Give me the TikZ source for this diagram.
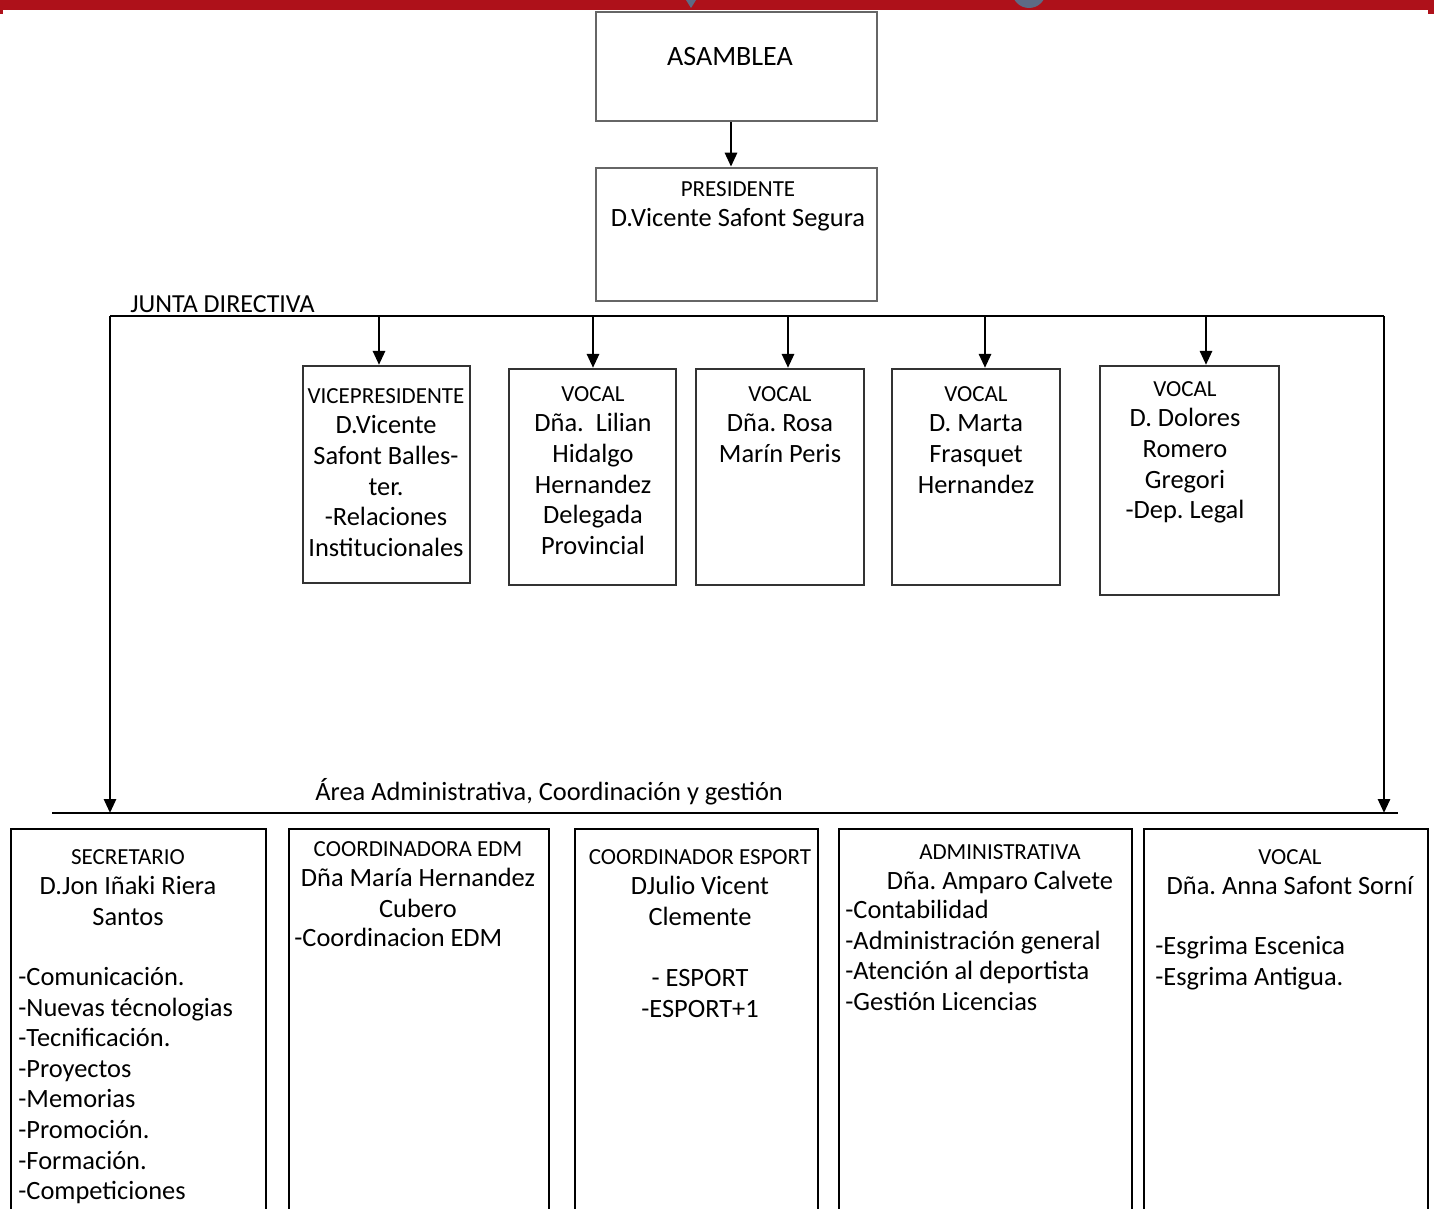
\documentclass[tikz,border=0pt]{standalone}
\usepackage{fontspec}
\setmainfont{Carlito}
\usepackage{tikz}
\usetikzlibrary{arrows.meta,positioning,calc}

\definecolor{barred}{HTML}{AE111A}
\definecolor{slate}{HTML}{5D6B85}
\newcommand\hdr{\fontsize{11.5}{14}\selectfont}
\frenchspacing

\begin{document}
\begin{tikzpicture}[x=0.5pt, y=-0.5pt,
    topbox/.style={draw=black!60, line width=1.3pt, minimum width=140.5pt},
    midbox/.style={draw=black!80, line width=1.1pt},
    botbox/.style={draw=black, line width=1pt, anchor=north west, minimum height=212pt},
    txt/.style={inner sep=0pt, font=\fontsize{13.2}{15.3}\selectfont, align=center},
    lst/.style={txt, align=left, anchor=north west},
    line/.style={line width=1.4pt},
    arrow/.style={line, -{Triangle[length=7pt,width=6pt]}}]

    \useasboundingbox (0,0) rectangle (1434,1209);
    \clip (0,0) rectangle (1434,1209);

    % page header bar
    \fill[barred] (0,0) rectangle (1434,10);
    \fill[barred] (0,0) rectangle (3,14);
    \fill[barred] (1428,0) rectangle (1434,14);
    \fill[slate] (1029,-9) circle (8.5pt);
    \fill[slate] (686,0) -- (696,0) -- (691,8) -- cycle;

    % top
    \node[topbox, minimum height=54.5pt] (asam) at (736.5,66.5) {};
    \node[txt, font=\fontsize{14}{17}\selectfont] (asamt) at (730,57) {ASAMBLEA};
    \node[topbox, minimum height=66.5pt] (pres) at (736.5,234.5) {};
    \node[txt, anchor=north] (prest) at (738,181) {{\hdr PRESIDENTE}\\D.Vicente Safont Segura};
    \draw[arrow] ([xshift=-2.75pt]asam.south) -- ([xshift=-2.75pt]pres.north);

    % junta directiva
    \coordinate (jdL) at (110,316);
    \coordinate (jdR) at (1384,316);
    \node[txt, anchor=base west, font=\fontsize{13}{15}\selectfont] (jdt) at (130,313) {JUNTA DIRECTIVA};
    \draw[line] (jdL) -- (jdR);

    \node[midbox, minimum width=83.5pt, minimum height=108.5pt] (vice) at (386.5,474.5) {};
    \node[midbox, minimum width=83.5pt, minimum height=108pt] (voc1) at (592.5,477) {};
    \node[midbox, minimum width=84pt, minimum height=108pt] (voc2) at (780,477) {};
    \node[midbox, minimum width=84pt, minimum height=108pt] (voc3) at (976,477) {};
    \node[midbox, minimum width=89.5pt, minimum height=114.5pt] (voc4) at (1189.5,480.5) {};

    \node[txt, anchor=north] (vicet) at (386,388) {{\hdr VICEPRESIDENTE}\\D.Vicente\\Safont Balles-\\ter.\\-Relaciones\\Institucionales};
    \node[txt, anchor=north] (voc1t) at (593,386) {{\hdr VOCAL}\\Dña.~ Lilian\\Hidalgo\\Hernandez\\Delegada\\Provincial};
    \node[txt, anchor=north] (voc2t) at (780,386) {{\hdr VOCAL}\\Dña. Rosa\\Marín Peris};
    \node[txt, anchor=north] (voc3t) at (976,386) {{\hdr VOCAL}\\D. Marta\\Frasquet\\Hernandez};
    \node[txt, anchor=north] (voc4t) at (1185,381) {{\hdr VOCAL}\\D. Dolores\\Romero\\Gregori\\-Dep. Legal};

    \foreach \b/\dx in {vice/-3.75, voc1/0.25, voc2/4, voc3/4.5, voc4/8.25}
        \draw[arrow] ([xshift=\dx pt]\b.north |- jdL) -- ([xshift=\dx pt]\b.north);

    % area administrativa
    \coordinate (arL) at (52,813);
    \coordinate (arR) at (1398,813);
    \node[txt, anchor=base west] (areat) at (315,800) {Área Administrativa, Coordinación y gestión};
    \draw[line, line width=1.1pt] (arL) -- (arR);
    \draw[arrow] (jdL) -- (jdL |- arL);
    \draw[arrow] (jdR) -- (jdR |- arR);

    \node[botbox, minimum width=127.5pt] (sec) at (10,828) {};
    \node[botbox, minimum width=130pt] (edm) at (288,828) {};
    \node[botbox, minimum width=121.5pt] (esp) at (574,828) {};
    \node[botbox, minimum width=146.5pt] (adm) at (838,828) {};
    \node[botbox, minimum width=142pt] (voc5) at (1143,828) {};

    \node[txt, anchor=north] (sect) at (128,849) {{\hdr SECRETARIO}\\D.Jon Iñaki Riera\\Santos};
    \node[lst] (secl) at (18,967) {-Comunicación.\\-Nuevas técnologias\\-Tecnificación.\\-Proyectos\\-Memorias\\-Promoción.\\-Formación.\\-Competiciones};
    \node[txt, anchor=north] (edmt) at (418,841) {{\hdr COORDINADORA EDM}\\Dña María Hernandez\\Cubero};
    \node[lst] (edml) at (294,928) {-Coordinacion EDM};
    \node[txt, anchor=north] (espt) at (700,849) {{\hdr COORDINADOR ESPORT}\\DJulio Vicent\\Clemente\\[15.3pt]- ESPORT\\-ESPORT+1};
    \node[txt, anchor=north] (admt) at (1000,844) {{\hdr ADMINISTRATIVA}\\Dña. Amparo Calvete};
    \node[lst] (adml) at (845,900) {-Contabilidad\\-Administración general\\-Atención al deportista\\-Gestión Licencias};
    \node[txt, anchor=north] (voc5t) at (1290,849) {{\hdr VOCAL}\\Dña. Anna Safont Sorní};
    \node[lst] (voc5l) at (1155,936) {-Esgrima Escenica\\-Esgrima Antigua.};
\end{tikzpicture}
\end{document}
